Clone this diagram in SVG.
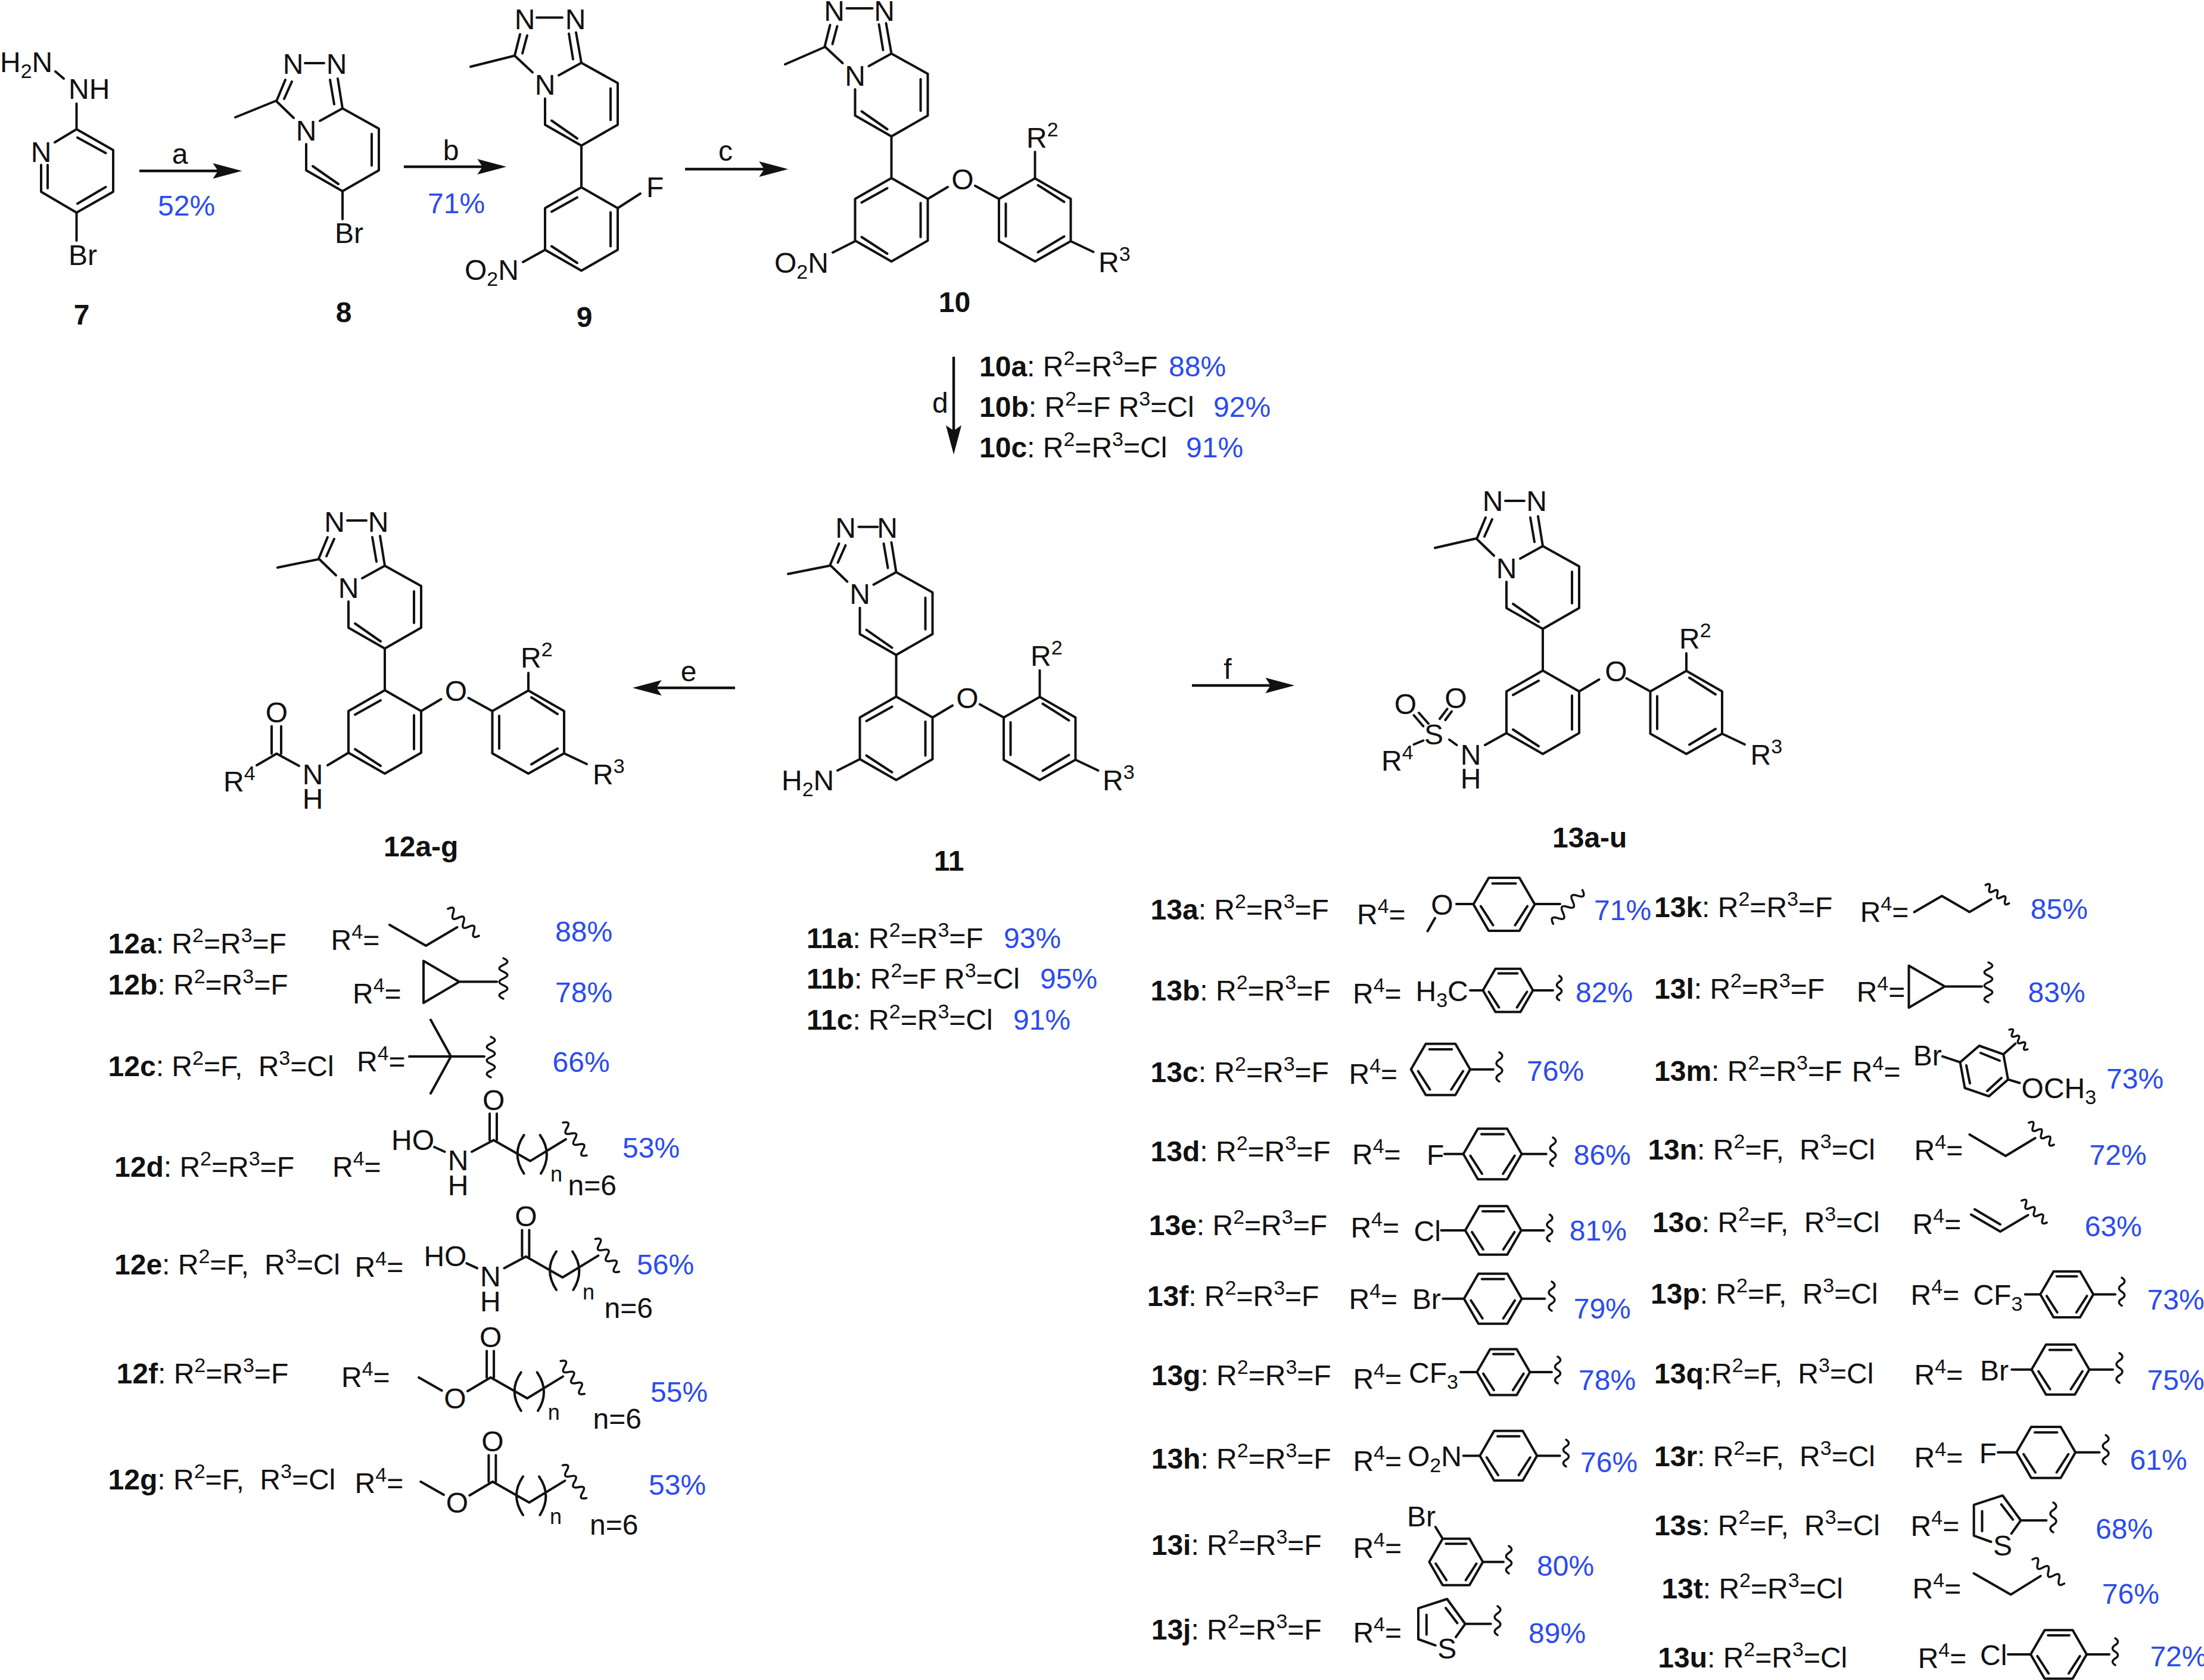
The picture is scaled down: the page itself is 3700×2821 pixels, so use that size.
<svg xmlns="http://www.w3.org/2000/svg" xmlns:xlink="http://www.w3.org/1999/xlink" width="3700" height="2821" viewBox="0 0 3700 2821">
<style>
text{font-family:"Liberation Sans",Arial,sans-serif;font-size:48px;fill:#111}
.m{text-anchor:middle}
.b{font-weight:700}
.u{font-size:34px}
.n{font-size:36px}
.p{fill:#2a4bf0}
.bd{fill:none;stroke:#111;stroke-width:4;stroke-linejoin:round;stroke-linecap:round;vector-effect:non-scaling-stroke}
.wv{fill:none;stroke:#111;stroke-width:3.5;stroke-linecap:round;vector-effect:non-scaling-stroke}
.ar{fill:none;stroke:#111;stroke-width:4.5}
</style>
<defs>
<marker id="head" markerUnits="userSpaceOnUse" markerWidth="50" markerHeight="30" viewBox="0 -13 46 26" refX="8" refY="0" orient="auto"><path d="M0 -12L45 0L0 12L8 0Z" fill="#111"/></marker>
<path id="tp" class="bd" d="M0 0L61 34V104L0 139L-61 104V60M-38 21L0 0M49 43V96M-50 97L-7 127"/>
<path id="tzA" class="bd" d="M-111 -12L-96 -48M-85 -45L-98 -16M-63 -76H-31M0 0L-8 -50M-21 -48L-14 -7M-111 -12L-82 16"/>
<path id="tzB" class="bd" d="M-112 -12L-103 -48M-91 -46L-99 -16M-75 -76H-32M0 0L-9 -51M-21 -49L-14 -6M-112 -12L-82 16"/>
<path id="rb" class="bd" d="M0 139V209M0 209L-61 244V314L0 349L61 314V244L0 209M-50 250L-7 226M-50 308L-7 336M49 251V308"/>
<path id="rc" class="bd" d="M61 244L94.5 224M140.5 222L180.5 244L241 209.5L301 244V315L241 349L180.5 315V244M192 252V307M246 221L290 249M290 307L246 333.5M301 315L339 333"/>
<path id="ph" class="bd" d="M-50 0L-25 -43.3H25L50 0L25 43.3H-25ZM-19 -34H19M-38 3L-18 34M38 3L18 34"/>
<path id="th" class="bd" d="M0 0H43M0 0L-30.4 -41.8L-78.7 -26.1V25.7L-49.9 36M0 0L-15.7 22.2M-64.9 -15.4V18M-32.7 -26.8L-13.2 -1.3"/>
<path id="chain" class="bd" d="M0 0L61.4 35L121.4 -1.6M51 -8.6Q29 23 51 56M78 -8.6Q100 23 79.4 56M-6.6 0V-44.6M5.4 0V-44.6"/>
<path id="wv" class="wv" d="M-50 0q12.5 -20 25 0t25 0t25 0t25 0"/>
<path id="wd" class="wv" d="M-50 0q8.33 -20 16.67 0t16.67 0t16.67 0t16.67 0t16.67 0t16.67 0"/>
</defs>
<rect width="3700" height="2821" fill="#fff"/>

<g id="connectors">
<line class="ar" x1="234" y1="287" x2="366" y2="287" marker-end="url(#head)"/>
<line class="ar" x1="678" y1="280" x2="810" y2="280" marker-end="url(#head)"/>
<line class="ar" x1="1150" y1="284" x2="1283" y2="284" marker-end="url(#head)"/>
<line class="ar" x1="1601" y1="599" x2="1601" y2="723" marker-end="url(#head)"/>
<line class="ar" x1="1234" y1="1155" x2="1102" y2="1155" marker-end="url(#head)"/>
<line class="ar" x1="2001" y1="1151" x2="2133" y2="1151" marker-end="url(#head)"/>
<text class="m" x="302" y="275">a</text>
<text x="265" y="362" class="p">52%</text>
<text class="m" x="757" y="269">b</text>
<text x="718" y="358" class="p">71%</text>
<text class="m" x="1218" y="270">c</text>
<text x="1565" y="693">d</text>
<text class="m" x="1156" y="1144">e</text>
<text class="m" x="2061" y="1140">f</text>
</g>

<g id="c7">
<path class="bd" d="M128.5 174V217L190 252V322L128.5 357L69 322V277M92 239L128.5 217M128.5 357V404M93 120L107 132M130 231L177.5 257M177.5 314L130 342M80 277V316"/>
<text x="0" y="120.5">H<tspan class="u" dy="10">2</tspan><tspan dy="-10">N</tspan></text>
<text x="115" y="166">NH</text>
<text class="m" x="69" y="271.5">N</text>
<text x="115" y="444.6">Br</text>
<text class="b m" x="137" y="545">7</text>
</g>

<g id="c8" transform="translate(575,182)">
<use href="#tp"/><use href="#tzA"/>
<path class="bd" d="M-111 -13L-180 15M0 139V186"/>
<text class="m" x="-83" y="-58">N</text><text class="m" x="-10" y="-58">N</text><text class="m" x="-61" y="53.5">N</text>
<text x="-13" y="226">Br</text>
<text class="b m" x="2" y="359">8</text>
</g>

<g id="c9" transform="translate(976,105.5)">
<use href="#tp"/><use href="#tzB"/><use href="#rb"/>
<path class="bd" d="M-112 -12L-186 6.5M61 244L99 219.5M-61 314L-98 334.5"/>
<text class="m" x="-95" y="-57">N</text><text class="m" x="-10" y="-57">N</text><text class="m" x="-61" y="53.5">N</text>
<text x="109" y="225.5">F</text>
<text x="-196" y="364.5">O<tspan class="u" dy="10">2</tspan><tspan dy="-10">N</tspan></text>
<text class="b m" x="5" y="443.5">9</text>
</g>

<g id="c10" transform="translate(1496.5,90)">
<use href="#tp"/><use href="#tzB"/><use href="#rb"/><use href="#rc"/>
<path class="bd" d="M-112 -11L-178.5 18M241 209.5V165M-61 315L-98.5 334"/>
<text class="m" x="-96" y="-55.5">N</text><text class="m" x="-12" y="-55.5">N</text><text class="m" x="-61" y="53.5">N</text>
<text class="m" x="119.5" y="228">O</text>
<text x="226.5" y="158">R<tspan class="u" dy="-19">2</tspan></text>
<text x="347.5" y="367">R<tspan class="u" dy="-19">3</tspan></text>
<text x="-196.5" y="368">O<tspan class="u" dy="10">2</tspan><tspan dy="-10">N</tspan></text>
<text class="b m" x="106" y="434">10</text>
</g>
<g id="list10">
<text x="1644" y="631.6"><tspan class="b">10a</tspan>: R<tspan class="u" dy="-19">2</tspan><tspan dy="19">=R</tspan><tspan class="u" dy="-19">3</tspan><tspan dy="19">=F</tspan></text>
<text x="1962" y="631.6" class="p">88%</text>
<text x="1644" y="700"><tspan class="b">10b</tspan>: R<tspan class="u" dy="-19">2</tspan><tspan dy="19">=F R</tspan><tspan class="u" dy="-19">3</tspan><tspan dy="19">=Cl</tspan></text>
<text x="2037" y="700" class="p">92%</text>
<text x="1644" y="768"><tspan class="b">10c</tspan>: R<tspan class="u" dy="-19">2</tspan><tspan dy="19">=R</tspan><tspan class="u" dy="-19">3</tspan><tspan dy="19">=Cl</tspan></text>
<text x="1991" y="768" class="p">91%</text>
</g>

<g id="c11" transform="translate(1504.5,960.7)">
<use href="#tp"/><use href="#tzA"/><use href="#rb"/><use href="#rc"/>
<path class="bd" d="M-111 -11L-181.5 3M241 209.5V165M-61 314L-98.5 333"/>
<text class="m" x="-85" y="-58">N</text><text class="m" x="-15" y="-58">N</text><text class="m" x="-61" y="53.5">N</text>
<text class="m" x="119.5" y="228">O</text>
<text x="225.5" y="157">R<tspan class="u" dy="-19">2</tspan></text>
<text x="346.5" y="366">R<tspan class="u" dy="-19">3</tspan></text>
<text x="-192.5" y="366">H<tspan class="u" dy="10">2</tspan><tspan dy="-10">N</tspan></text>
<text class="b m" x="88.5" y="501">11</text>
</g>
<g id="list11">
<text x="1354" y="1592"><tspan class="b">11a</tspan>: R<tspan class="u" dy="-19">2</tspan><tspan dy="19">=R</tspan><tspan class="u" dy="-19">3</tspan><tspan dy="19">=F</tspan></text>
<text x="1685" y="1592" class="p">93%</text>
<text x="1354" y="1660"><tspan class="b">11b</tspan>: R<tspan class="u" dy="-19">2</tspan><tspan dy="19">=F R</tspan><tspan class="u" dy="-19">3</tspan><tspan dy="19">=Cl</tspan></text>
<text x="1746" y="1660" class="p">95%</text>
<text x="1354" y="1729"><tspan class="b">11c</tspan>: R<tspan class="u" dy="-19">2</tspan><tspan dy="19">=R</tspan><tspan class="u" dy="-19">3</tspan><tspan dy="19">=Cl</tspan></text>
<text x="1701" y="1729" class="p">91%</text>
</g>

<g id="c12" transform="translate(646,950)">
<use href="#tp"/><use href="#tzA"/><use href="#rb"/><use href="#rc"/>
<path class="bd" d="M-111 -11L-180 3M241 209.5V180M-61 314L-96 335M-144 336L-181.5 315.6L-215 335M-190 315.6V269.6M-174 315.6V269.6"/>
<text class="m" x="-84.5" y="-57">N</text><text class="m" x="-11" y="-57">N</text><text class="m" x="-61" y="53.5">N</text>
<text class="m" x="119.5" y="227">O</text>
<text x="228" y="171">R<tspan class="u" dy="-19">2</tspan></text>
<text x="349" y="367">R<tspan class="u" dy="-19">3</tspan></text>
<text class="m" x="-121" y="367">N</text><text class="m" x="-121" y="407.6">H</text>
<text class="m" x="-181.5" y="262.5">O</text>
<text x="-271" y="378.6">R<tspan class="u" dy="-19">4</tspan></text>
<text x="-2" y="488" class="b">12a-g</text>
</g>

<g id="c13" transform="translate(2590,917)">
<use href="#tp"/><use href="#tzA"/><use href="#rb"/><use href="#rc"/>
<path class="bd" d="M-111 -13L-181 3M241 209.5V180M-61 314L-97 334M-157 325L-144.5 334M-216.5 333L-200.6 326.5M-216.5 284L-200.6 302.5M-208 280L-192 298M-173 290L-160.4 273.4M-163.6 292L-153 277.6"/>
<text class="m" x="-84" y="-59">N</text><text class="m" x="-10.5" y="-59">N</text><text class="m" x="-61" y="53.5">N</text>
<text class="m" x="123" y="227">O</text>
<text x="229" y="172">R<tspan class="u" dy="-19">2</tspan></text>
<text x="348.5" y="367">R<tspan class="u" dy="-19">3</tspan></text>
<text class="m" x="-121" y="367">N</text><text class="m" x="-121" y="407">H</text>
<text class="m" x="-183" y="333">S</text>
<text class="m" x="-230.6" y="281.5">O</text><text class="m" x="-146" y="271.5">O</text>
<text x="-271" y="377">R<tspan class="u" dy="-19">4</tspan></text>
<text x="16" y="506" class="b">13a-u</text>
</g>

<g id="r12a">
<text x="181.6" y="1601"><tspan class="b">12a</tspan>: R<tspan class="u" dy="-19">2</tspan><tspan dy="19">=R</tspan><tspan class="u" dy="-19">3</tspan><tspan dy="19">=F</tspan></text>
<text x="555.6" y="1595">R<tspan class="u" dy="-19">4</tspan><tspan dy="19">=</tspan></text>
<path class="bd" d="M654 1553L715 1588L767.5 1557"/>
<use href="#wd" transform="translate(778,1548.7) rotate(41) scale(.69)"/>
<text x="932" y="1581" class="p">88%</text>
</g>
<g id="r12b">
<text x="181.6" y="1670"><tspan class="b">12b</tspan>: R<tspan class="u" dy="-19">2</tspan><tspan dy="19">=R</tspan><tspan class="u" dy="-19">3</tspan><tspan dy="19">=F</tspan></text>
<text x="592" y="1685">R<tspan class="u" dy="-19">4</tspan><tspan dy="19">=</tspan></text>
<path class="bd" d="M711 1613.6L771 1648.6L711 1684ZM771 1648.6H834"/>
<use href="#wd" transform="translate(845,1643) rotate(90) scale(.68)"/>
<text x="932" y="1683" class="p">78%</text>
</g>
<g id="r12c">
<text x="181.6" y="1807"><tspan class="b">12c</tspan>: R<tspan class="u" dy="-19">2</tspan><tspan dy="19">=F, </tspan><tspan dx="13">R</tspan><tspan class="u" dy="-19">3</tspan><tspan dy="19">=Cl</tspan></text>
<text x="599" y="1799">R<tspan class="u" dy="-19">4</tspan><tspan dy="19">=</tspan></text>
<path class="bd" d="M687 1774H813M723 1712.5L757 1774L723 1836"/>
<use href="#wd" transform="translate(824,1775) rotate(90) scale(.68)"/>
<text x="927.5" y="1800" class="p">66%</text>
</g>
<g id="r12d">
<text x="192" y="1975.6"><tspan class="b">12d</tspan>: R<tspan class="u" dy="-19">2</tspan><tspan dy="19">=R</tspan><tspan class="u" dy="-19">3</tspan><tspan dy="19">=F</tspan></text>
<text x="558" y="1975.6">R<tspan class="u" dy="-19">4</tspan><tspan dy="19">=</tspan></text>
<g transform="translate(828.6,1914.6)">
<use href="#chain"/>
<path class="bd" d="M-99.6 11.4L-82 19.4M-36.6 19.4L0 0"/>
<use href="#wd" transform="translate(136.4,-2) rotate(54) scale(.68)"/>
<text x="-171.6" y="16">HO</text>
<text class="m" x="-59.6" y="50.4">N</text><text class="m" x="-59.6" y="92.4">H</text>
<text class="m" x="0" y="-51">O</text>
<text class="n" x="95.4" y="69.4">n</text>
</g>
<text x="953.5" y="2007">n=6</text>
<text x="1045" y="1944" class="p">53%</text>
</g>
<g id="r12e">
<text x="192" y="2140"><tspan class="b">12e</tspan>: R<tspan class="u" dy="-19">2</tspan><tspan dy="19">=F, </tspan><tspan dx="13">R</tspan><tspan class="u" dy="-19">3</tspan><tspan dy="19">=Cl</tspan></text>
<text x="595.6" y="2144">R<tspan class="u" dy="-19">4</tspan><tspan dy="19">=</tspan></text>
<g transform="translate(883,2110)">
<use href="#chain"/>
<path class="bd" d="M-99.6 11.4L-82 19.4M-36.6 19.4L0 0"/>
<use href="#wd" transform="translate(136.4,-2) rotate(54) scale(.68)"/>
<text x="-171.6" y="16">HO</text>
<text class="m" x="-59.6" y="50.4">N</text><text class="m" x="-59.6" y="92.4">H</text>
<text class="m" x="0" y="-51">O</text>
<text class="n" x="95" y="71.6">n</text>
</g>
<text x="1014.5" y="2213">n=6</text>
<text x="1069" y="2140" class="p">56%</text>
</g>
<g id="r12f">
<text x="195.6" y="2323"><tspan class="b">12f</tspan>: R<tspan class="u" dy="-19">2</tspan><tspan dy="19">=R</tspan><tspan class="u" dy="-19">3</tspan><tspan dy="19">=F</tspan></text>
<text x="573" y="2329">R<tspan class="u" dy="-19">4</tspan><tspan dy="19">=</tspan></text>
<g transform="translate(823.7,2313)">
<use href="#chain"/>
<path class="bd" d="M-120.7 0L-82 22M-38.7 23L0 0"/>
<use href="#wd" transform="translate(137.5,0) rotate(54) scale(.68)"/>
<text class="m" x="-59.7" y="52">O</text>
<text class="m" x="0" y="-51">O</text>
<text class="n" x="96" y="71">n</text>
</g>
<text x="995.6" y="2399">n=6</text>
<text x="1092" y="2354" class="p">55%</text>
</g>
<g id="r12g">
<text x="181.6" y="2501"><tspan class="b">12g</tspan>: R<tspan class="u" dy="-19">2</tspan><tspan dy="19">=F, </tspan><tspan dx="13">R</tspan><tspan class="u" dy="-19">3</tspan><tspan dy="19">=Cl</tspan></text>
<text x="595.6" y="2507">R<tspan class="u" dy="-19">4</tspan><tspan dy="19">=</tspan></text>
<g transform="translate(827,2488)">
<use href="#chain"/>
<path class="bd" d="M-120.7 0L-82 22M-38.7 23L0 0"/>
<use href="#wd" transform="translate(137.5,0) rotate(54) scale(.68)"/>
<text class="m" x="-59.7" y="52">O</text>
<text class="m" x="0" y="-51">O</text>
<text class="n" x="96" y="71">n</text>
</g>
<text x="990" y="2577">n=6</text>
<text x="1089" y="2510" class="p">53%</text>
</g>

<g id="r13a">
<text x="1931.6" y="1543.5"><tspan class="b">13a</tspan>: R<tspan class="u" dy="-19">2</tspan><tspan dy="19">=R</tspan><tspan class="u" dy="-19">3</tspan><tspan dy="19">=F</tspan></text>
<text x="2278" y="1551.5">R<tspan class="u" dy="-19">4</tspan><tspan dy="19">=</tspan></text>
<text class="m" x="2421" y="1536">O</text>
<path class="bd" d="M2409 1541.7L2396.6 1563.6M2445 1518H2474M2576 1518H2619"/>
<use href="#ph" transform="translate(2525,1518.5) scale(1.03)"/>
<use href="#wd" transform="translate(2632,1523) rotate(-49) scale(.75)"/>
<text x="2676" y="1545" class="p">71%</text>
</g>
<g id="r13b">
<text x="1931.6" y="1679.6"><tspan class="b">13b</tspan>: R<tspan class="u" dy="-19">2</tspan><tspan dy="19">=R</tspan><tspan class="u" dy="-19">3</tspan><tspan dy="19">=F</tspan></text>
<text x="2271" y="1685">R<tspan class="u" dy="-19">4</tspan><tspan dy="19">=</tspan></text>
<text x="2376.5" y="1681">H<tspan class="u" dy="10">3</tspan><tspan dy="-10">C</tspan></text>
<path class="bd" d="M2468 1663H2490M2573 1663H2607"/>
<use href="#ph" transform="translate(2531.5,1663) scale(.84)"/>
<use href="#wv" transform="translate(2617.6,1659) rotate(90) scale(.41)"/>
<text x="2645" y="1683" class="p">82%</text>
</g>
<g id="r13c">
<text x="1931.6" y="1817"><tspan class="b">13c</tspan>: R<tspan class="u" dy="-19">2</tspan><tspan dy="19">=R</tspan><tspan class="u" dy="-19">3</tspan><tspan dy="19">=F</tspan></text>
<text x="2264.5" y="1820">R<tspan class="u" dy="-19">4</tspan><tspan dy="19">=</tspan></text>
<path class="bd" d="M2468 1795.7H2507"/>
<use href="#ph" transform="translate(2418.4,1795.7) scale(.994)"/>
<use href="#wv" transform="translate(2517,1791.5) rotate(90) scale(.49)"/>
<text x="2563" y="1815" class="p">76%</text>
</g>
<g id="r13d">
<text x="1931.6" y="1950"><tspan class="b">13d</tspan>: R<tspan class="u" dy="-19">2</tspan><tspan dy="19">=R</tspan><tspan class="u" dy="-19">3</tspan><tspan dy="19">=F</tspan></text>
<text x="2270" y="1954.6">R<tspan class="u" dy="-19">4</tspan><tspan dy="19">=</tspan></text>
<text x="2395" y="1955.5">F</text>
<path class="bd" d="M2425 1937.7H2456.6M2554.6 1937.7H2595.8"/>
<use href="#ph" transform="translate(2505.6,1937.7) scale(.98)"/>
<use href="#wv" transform="translate(2607,1934) rotate(90) scale(.48)"/>
<text x="2641.7" y="1955.5" class="p">86%</text>
</g>
<g id="r13e">
<text x="1928.7" y="2073.8"><tspan class="b">13e</tspan>: R<tspan class="u" dy="-19">2</tspan><tspan dy="19">=R</tspan><tspan class="u" dy="-19">3</tspan><tspan dy="19">=F</tspan></text>
<text x="2267.4" y="2078">R<tspan class="u" dy="-19">4</tspan><tspan dy="19">=</tspan></text>
<text x="2373.6" y="2083.6">Cl</text>
<path class="bd" d="M2419.5 2066H2459.8M2553.8 2066H2591.7"/>
<use href="#ph" transform="translate(2506.8,2066) scale(.94)"/>
<use href="#wv" transform="translate(2601.5,2062) rotate(90) scale(.45)"/>
<text x="2634.8" y="2082.8" class="p">81%</text>
</g>
<g id="r13f">
<text x="1925.8" y="2192.8"><tspan class="b">13f</tspan>: R<tspan class="u" dy="-19">2</tspan><tspan dy="19">=R</tspan><tspan class="u" dy="-19">3</tspan><tspan dy="19">=F</tspan></text>
<text x="2264.5" y="2198">R<tspan class="u" dy="-19">4</tspan><tspan dy="19">=</tspan></text>
<text x="2370.7" y="2198">Br</text>
<path class="bd" d="M2422.4 2180.8H2457.7M2554.7 2180.8H2593.4"/>
<use href="#ph" transform="translate(2506.2,2180.8) scale(.97)"/>
<use href="#wv" transform="translate(2605,2176.5) rotate(90) scale(.49)"/>
<text x="2641.7" y="2214" class="p">79%</text>
</g>
<g id="r13g">
<text x="1932.7" y="2326"><tspan class="b">13g</tspan>: R<tspan class="u" dy="-19">2</tspan><tspan dy="19">=R</tspan><tspan class="u" dy="-19">3</tspan><tspan dy="19">=F</tspan></text>
<text x="2271.4" y="2332">R<tspan class="u" dy="-19">4</tspan><tspan dy="19">=</tspan></text>
<text x="2365" y="2322.4">CF<tspan class="u" dy="10">3</tspan></text>
<path class="bd" d="M2452 2304H2479.4M2568.4 2304H2605"/>
<use href="#ph" transform="translate(2523.9,2304) scale(.89)"/>
<use href="#wv" transform="translate(2615,2300.5) rotate(90) scale(.45)"/>
<text x="2650" y="2334" class="p">78%</text>
</g>
<g id="r13h">
<text x="1932.7" y="2465.8"><tspan class="b">13h</tspan>: R<tspan class="u" dy="-19">2</tspan><tspan dy="19">=R</tspan><tspan class="u" dy="-19">3</tspan><tspan dy="19">=F</tspan></text>
<text x="2271.4" y="2470">R<tspan class="u" dy="-19">4</tspan><tspan dy="19">=</tspan></text>
<text x="2363" y="2462">O<tspan class="u" dy="10">2</tspan><tspan dy="-10">N</tspan></text>
<path class="bd" d="M2456.8 2444.4H2484.3M2580.3 2444.4H2618.7"/>
<use href="#ph" transform="translate(2532.3,2444.4) scale(.96)"/>
<use href="#wv" transform="translate(2629,2440) rotate(90) scale(.45)"/>
<text x="2653" y="2471.8" class="p">76%</text>
</g>
<g id="r13i">
<text x="1932.7" y="2611"><tspan class="b">13i</tspan>: R<tspan class="u" dy="-19">2</tspan><tspan dy="19">=R</tspan><tspan class="u" dy="-19">3</tspan><tspan dy="19">=F</tspan></text>
<text x="2271.4" y="2615.6">R<tspan class="u" dy="-19">4</tspan><tspan dy="19">=</tspan></text>
<text x="2362" y="2563">Br</text>
<path class="bd" d="M2489.4 2622.8H2524M2409.8 2564L2421.9 2583.8"/>
<use href="#ph" transform="translate(2444.4,2622.8) scale(.9)"/>
<use href="#wv" transform="translate(2533,2619) rotate(90) scale(.46)"/>
<text x="2580" y="2646" class="p">80%</text>
</g>
<g id="r13j">
<text x="1932.7" y="2753"><tspan class="b">13j</tspan>: R<tspan class="u" dy="-19">2</tspan><tspan dy="19">=R</tspan><tspan class="u" dy="-19">3</tspan><tspan dy="19">=F</tspan></text>
<text x="2271.4" y="2757.6">R<tspan class="u" dy="-19">4</tspan><tspan dy="19">=</tspan></text>
<use href="#th" transform="translate(2459.7,2726.8)"/>
<text class="m" x="2429.3" y="2785.4">S</text>
<use href="#wv" transform="translate(2514,2721.3) rotate(90) scale(.486)"/>
<text x="2566" y="2758.5" class="p">89%</text>
</g>

<g id="r13k">
<text x="2777" y="1540"><tspan class="b">13k</tspan>: R<tspan class="u" dy="-19">2</tspan><tspan dy="19">=R</tspan><tspan class="u" dy="-19">3</tspan><tspan dy="19">=F</tspan></text>
<text x="3122.7" y="1548">R<tspan class="u" dy="-19">4</tspan><tspan dy="19">=</tspan></text>
<path class="bd" d="M3213.6 1531.4L3260 1504.6L3306.4 1531.4L3342.7 1510"/>
<use href="#wd" transform="translate(3353,1501.5) rotate(38) scale(.5)"/>
<text x="3408.8" y="1542.6" class="p">85%</text>
</g>
<g id="r13l">
<text x="2777" y="1677.4"><tspan class="b">13l</tspan>: R<tspan class="u" dy="-19">2</tspan><tspan dy="19">=R</tspan><tspan class="u" dy="-19">3</tspan><tspan dy="19">=F</tspan></text>
<text x="3116.7" y="1682">R<tspan class="u" dy="-19">4</tspan><tspan dy="19">=</tspan></text>
<path class="bd" d="M3204.5 1621.6L3265 1656.4L3204.5 1692ZM3265 1656.4H3327"/>
<use href="#wd" transform="translate(3338,1649.5) rotate(90) scale(.67)"/>
<text x="3404.5" y="1683" class="p">83%</text>
</g>
<g id="r13m">
<text x="2777" y="1815"><tspan class="b">13m</tspan>: R<tspan class="u" dy="-19">2</tspan><tspan dy="19">=R</tspan><tspan class="u" dy="-19">3</tspan><tspan dy="19">=F</tspan></text>
<text x="3108.8" y="1816">R<tspan class="u" dy="-19">4</tspan><tspan dy="19">=</tspan></text>
<text x="3211.8" y="1789">Br</text>
<path class="bd" d="M3290.6 1783.7L3322.7 1756L3363.3 1770.3L3371 1812.7L3339 1840.8L3298.5 1827ZM3261 1773.8L3290.6 1783.7M3371 1812.7L3390.6 1818.5M3363.3 1770.3L3383.3 1752.4M3325 1768L3357 1781M3301 1789L3307 1819M3360 1810L3336 1832"/>
<use href="#wd" transform="translate(3388.5,1745.5) rotate(47) scale(.45)"/>
<text x="3393.6" y="1844">OCH<tspan class="u" dy="10">3</tspan></text>
<text x="3536" y="1828" class="p">73%</text>
</g>
<g id="r13n">
<text x="2766.4" y="1946.6"><tspan class="b">13n</tspan>: R<tspan class="u" dy="-19">2</tspan><tspan dy="19">=F, </tspan><tspan dx="13">R</tspan><tspan class="u" dy="-19">3</tspan><tspan dy="19">=Cl</tspan></text>
<text x="3213.6" y="1947.5">R<tspan class="u" dy="-19">4</tspan><tspan dy="19">=</tspan></text>
<path class="bd" d="M3306.4 1905L3367 1941L3416.7 1911"/>
<use href="#wd" transform="translate(3427,1903.7) rotate(41) scale(.56)"/>
<text x="3507.6" y="1955.5" class="p">72%</text>
</g>
<g id="r13o">
<text x="2774" y="2069.4"><tspan class="b">13o</tspan>: R<tspan class="u" dy="-19">2</tspan><tspan dy="19">=F, </tspan><tspan dx="13">R</tspan><tspan class="u" dy="-19">3</tspan><tspan dy="19">=Cl</tspan></text>
<text x="3210.6" y="2071.6">R<tspan class="u" dy="-19">4</tspan><tspan dy="19">=</tspan></text>
<path class="bd" d="M3309 2039.5L3358 2068L3404.5 2040.4M3315 2030.5L3358 2056"/>
<use href="#wd" transform="translate(3415,2034.5) rotate(41) scale(.56)"/>
<text x="3499.7" y="2076" class="p">63%</text>
</g>
<g id="r13p">
<text x="2771" y="2189.4"><tspan class="b">13p</tspan>: R<tspan class="u" dy="-19">2</tspan><tspan dy="19">=F, </tspan><tspan dx="13">R</tspan><tspan class="u" dy="-19">3</tspan><tspan dy="19">=Cl</tspan></text>
<text x="3207.6" y="2190.6">R<tspan class="u" dy="-19">4</tspan><tspan dy="19">=</tspan></text>
<text x="3312.4" y="2190.6">CF<tspan class="u" dy="10">3</tspan></text>
<path class="bd" d="M3399.7 2173.5H3425.2M3514.2 2173.5H3551"/>
<use href="#ph" transform="translate(3469.7,2173.5) scale(.89)"/>
<use href="#wv" transform="translate(3562,2169) rotate(90) scale(.47)"/>
<text x="3604.5" y="2199" class="p">73%</text>
</g>
<g id="r13q">
<text x="2777" y="2323.3"><tspan class="b">13q</tspan>:R<tspan class="u" dy="-19">2</tspan><tspan dy="19">=F, </tspan><tspan dx="13">R</tspan><tspan class="u" dy="-19">3</tspan><tspan dy="19">=Cl</tspan></text>
<text x="3213.6" y="2324.6">R<tspan class="u" dy="-19">4</tspan><tspan dy="19">=</tspan></text>
<text x="3324" y="2317.7">Br</text>
<path class="bd" d="M3377.3 2299.8H3410.5M3507.5 2299.8H3547"/>
<use href="#ph" transform="translate(3459,2299.8) scale(.97)"/>
<use href="#wv" transform="translate(3558,2297) rotate(90) scale(.5)"/>
<text x="3604.5" y="2334" class="p">75%</text>
</g>
<g id="r13r">
<text x="2777" y="2462.4"><tspan class="b">13r</tspan>: R<tspan class="u" dy="-19">2</tspan><tspan dy="19">=F, </tspan><tspan dx="13">R</tspan><tspan class="u" dy="-19">3</tspan><tspan dy="19">=Cl</tspan></text>
<text x="3213.6" y="2463.6">R<tspan class="u" dy="-19">4</tspan><tspan dy="19">=</tspan></text>
<text x="3322.7" y="2456.8">F</text>
<path class="bd" d="M3354 2438.8H3385.2M3484.2 2438.8H3524.5"/>
<use href="#ph" transform="translate(3434.7,2438.8) scale(.99)"/>
<use href="#wv" transform="translate(3535,2434.3) rotate(90) scale(.49)"/>
<text x="3575.5" y="2467.5" class="p">61%</text>
</g>
<g id="r13s">
<text x="2777" y="2578"><tspan class="b">13s</tspan>: R<tspan class="u" dy="-19">2</tspan><tspan dy="19">=F, </tspan><tspan dx="13">R</tspan><tspan class="u" dy="-19">3</tspan><tspan dy="19">=Cl</tspan></text>
<text x="3207.6" y="2579">R<tspan class="u" dy="-19">4</tspan><tspan dy="19">=</tspan></text>
<use href="#th" transform="translate(3392.4,2553)"/>
<text class="m" x="3362" y="2612">S</text>
<use href="#wv" transform="translate(3447,2547.9) rotate(90) scale(.5)"/>
<text x="3518" y="2584" class="p">68%</text>
</g>
<g id="r13t">
<text x="2789.4" y="2684"><tspan class="b">13t</tspan>: R<tspan class="u" dy="-19">2</tspan><tspan dy="19">=R</tspan><tspan class="u" dy="-19">3</tspan><tspan dy="19">=Cl</tspan></text>
<text x="3210.6" y="2684">R<tspan class="u" dy="-19">4</tspan><tspan dy="19">=</tspan></text>
<path class="bd" d="M3313.6 2642L3375.5 2677.6L3425.8 2646.4"/>
<use href="#wd" transform="translate(3438.7,2638.8) rotate(37) scale(.67)"/>
<text x="3528.8" y="2693.4" class="p">76%</text>
</g>
<g id="r13u">
<text x="2783.3" y="2800.4"><tspan class="b">13u</tspan>: R<tspan class="u" dy="-19">2</tspan><tspan dy="19">=R</tspan><tspan class="u" dy="-19">3</tspan><tspan dy="19">=Cl</tspan></text>
<text x="3219.7" y="2801">R<tspan class="u" dy="-19">4</tspan><tspan dy="19">=</tspan></text>
<text x="3324" y="2796">Cl</text>
<path class="bd" d="M3371 2778H3409M3503 2778H3541"/>
<use href="#ph" transform="translate(3456,2778) scale(.94)"/>
<use href="#wv" transform="translate(3551,2773.5) rotate(90) scale(.45)"/>
<text x="3609.4" y="2798" class="p">72%</text>
</g>
</svg>
